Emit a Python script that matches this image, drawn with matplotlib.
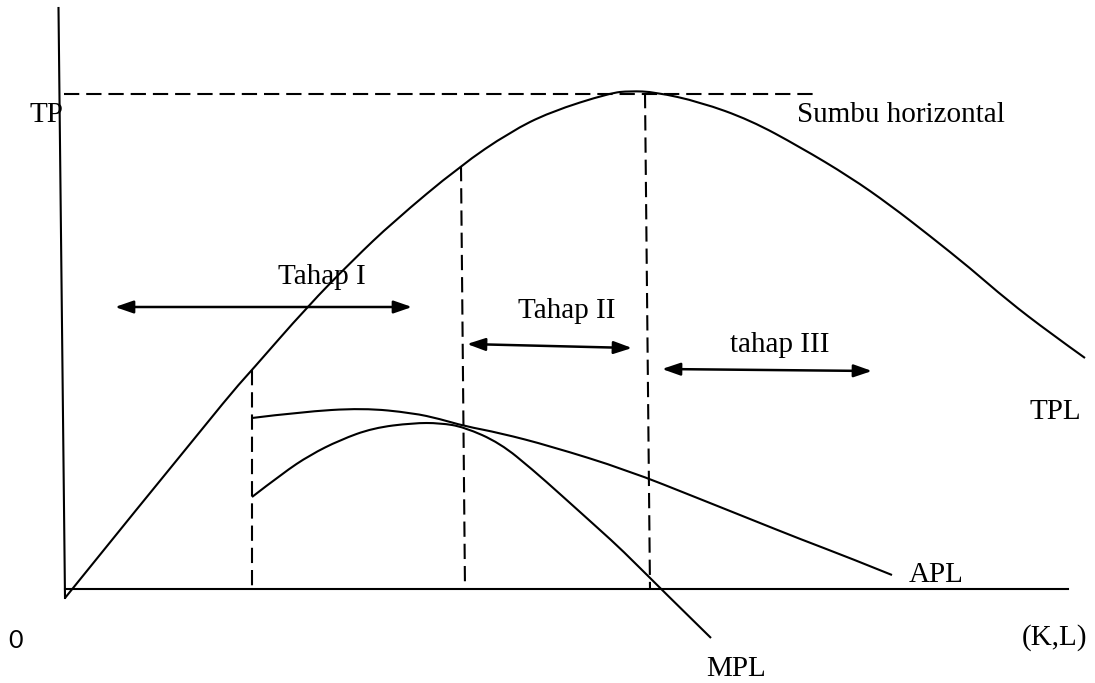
import matplotlib
matplotlib.use("Agg")
import matplotlib.pyplot as plt
from matplotlib.patches import FancyArrowPatch, PathPatch
from matplotlib.path import Path

plt.rcParams['lines.scale_dashes'] = False

# ---- data (origin at the axes intersection; x = input (K,L), y = output) ----
tp_x = [0, 160, 187, 242, 288, 328, 395, 445, 485, 545, 565, 590, 635, 685, 735, 785, 825, 865, 905, 942, 985, 1020]
tp_y = [-9, 189, 219, 282, 329, 367, 423, 457, 477, 496, 498, 497, 487, 469, 442, 412, 384, 353, 321, 289, 256, 231]

apl_x = [187, 235, 298, 348, 375, 399, 435, 485, 562, 635, 685, 735, 785, 827]
apl_y = [171, 177, 181, 176, 170, 163, 156, 143, 119, 90, 70, 50, 31, 14]

mpl_x = [187, 218, 245, 275, 308, 348, 375, 399, 435, 468, 495, 535, 557, 595, 646]
mpl_y = [92, 116, 134, 149, 161, 166, 166, 162, 146, 119, 95, 59, 39, 1, -49]

# stage boundaries (x at bottom / top of the dashed verticals)
stage_x_bottom = [187, 400, 585]
stage_x_top = [187, 396, 580]
stage_y_top = [219, 423, 496]
tp_max = 495

# stage arrows: (x_start, y_start, x_end, y_end)
stage_arrows = [(50, 282, 347, 282), (402, 245, 567, 241), (597, 220, 807, 218)]
stage_labels = ["Tahap I", "Tahap II", "tahap III"]
stage_label_pos = [(213, 305), (453, 271), (665, 237)]


def smooth_path(xs, ys):
    """Quadratic B-spline path drawn by matplotlib, using the read points as control points."""
    pts = list(zip(xs, ys))
    verts = [pts[0]]
    codes = [Path.MOVETO]
    for i in range(1, len(pts) - 1):
        ctrl = pts[i]
        if i < len(pts) - 2:
            end = ((pts[i][0] + pts[i + 1][0]) / 2, (pts[i][1] + pts[i + 1][1]) / 2)
        else:
            end = pts[i + 1]
        verts += [ctrl, end]
        codes += [Path.CURVE3, Path.CURVE3]
    if len(pts) == 2:
        verts.append(pts[1])
        codes.append(Path.LINETO)
    return Path(verts, codes)


fig = plt.figure(figsize=(10.95, 6.83), dpi=100)
ax = fig.add_axes([0, 0, 1, 1])
ax.set_xlim(-65, 1030)
ax.set_ylim(-94, 589)
ax.axis('off')

lw = 1.5
# axes lines
ax.plot([-6.5, 0], [581, -9], color='black', lw=lw)
ax.plot([0, 1003], [0, 0], color='black', lw=lw)

# curves
for xs, ys in [(tp_x, tp_y), (apl_x, apl_y), (mpl_x, mpl_y)]:
    ax.add_patch(PathPatch(smooth_path(xs, ys), facecolor='none', edgecolor='black',
                           lw=lw, capstyle='butt', joinstyle='round'))

dash = (0, (11, 5))
# horizontal dashed at max TP
ax.plot([-1, 748], [tp_max, tp_max], color='black', lw=lw, linestyle=dash)
# vertical dashed lines
for xb, xt, yt in zip(stage_x_bottom, stage_x_top, stage_y_top):
    ax.plot([xt, xb], [yt, 0], color='black', lw=lw, linestyle=dash)

# arrows
for (x0, y0, x1, y1) in stage_arrows:
    arr = FancyArrowPatch((x0, y0), (x1, y1),
                          arrowstyle='<|-|>,head_length=1.1,head_width=0.38',
                          mutation_scale=10, color='black', lw=1.8,
                          shrinkA=0, shrinkB=0)
    ax.add_patch(arr)

serif = 'Liberation Serif'
fs = 21
for lab, (x, y) in zip(stage_labels, stage_label_pos):
    ax.text(x, y, lab, family=serif, fontsize=fs, ha='left', va='baseline')

ax.text(-36, 467, "TP", family=serif, fontsize=fs, ha='left', va='baseline')
ax.text(732, 467, "Sumbu horizontal", family=serif, fontsize=fs, ha='left', va='baseline')
ax.text(965, 170, "TPL", family=serif, fontsize=fs, ha='left', va='baseline')
ax.text(844, 7, "APL", family=serif, fontsize=fs, ha='left', va='baseline')
ax.text(641, -87, "MPL", family=serif, fontsize=fs, ha='left', va='baseline')
ax.text(957, -56, "(K,L)", family=serif, fontsize=fs, ha='left', va='baseline')
ax.text(-57, -59, "0", family='Lato', fontsize=18, ha='left', va='baseline')

fig.savefig("out.png", dpi=100)
